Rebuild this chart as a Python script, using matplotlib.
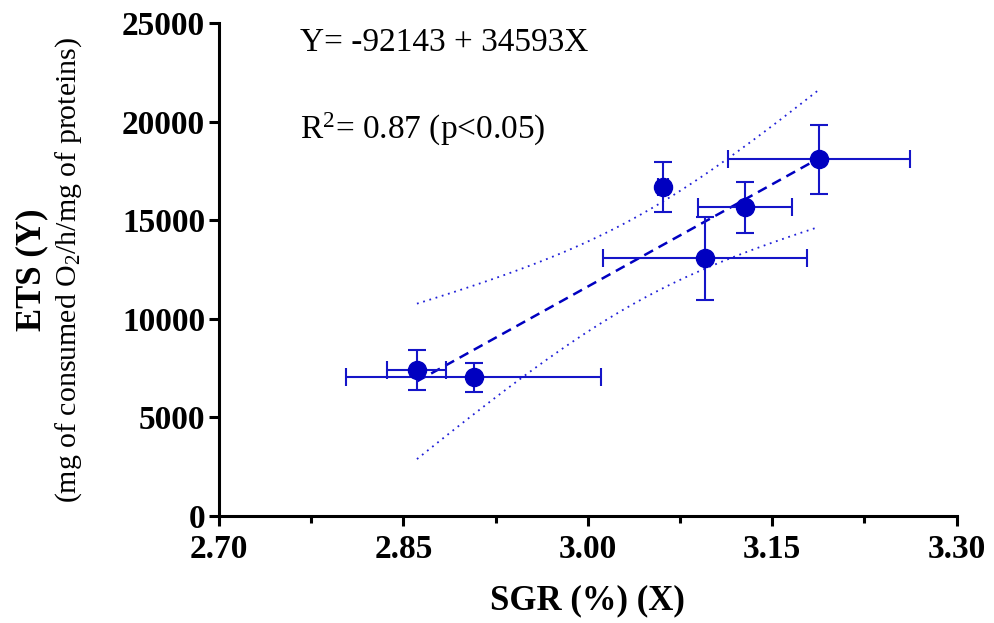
import numpy as np
import matplotlib
matplotlib.use("Agg")
import matplotlib.pyplot as plt
from matplotlib.ticker import MultipleLocator

plt.rcParams['font.family'] = ['Liberation Serif', 'DejaVu Serif']
plt.rcParams['mathtext.fontset'] = 'custom'
plt.rcParams['mathtext.rm'] = 'Liberation Serif'
plt.rcParams['mathtext.it'] = 'Liberation Serif:italic'
plt.rcParams['mathtext.bf'] = 'Liberation Serif:bold'

# SGR (%) vs ETS activity, mean +/- SD for each group
sgr = [2.861, 2.907, 3.061, 3.095, 3.128, 3.188]
sgr_sd = [0.024, 0.104, 0.004, 0.083, 0.038, 0.074]
ets = [7400, 7030, 16690, 13060, 15650, 18090]
ets_sd = [1010, 745, 1267, 2094, 1283, 1757]

# fitted regression
intercept = -92143
slope = 34593
t_crit = 2.776  # t(0.975, df=4)

blue = '#0000C0'
ebar = '#1515C8'

x = np.array(sgr)
y = np.array(ets)
n = len(x)
xs = np.linspace(x.min(), x.max(), 100)
fit = intercept + slope * xs
resid = y - (intercept + slope * x)
s = np.sqrt(np.sum(resid ** 2) / (n - 2))
sxx = np.sum((x - x.mean()) ** 2)
half = t_crit * s * np.sqrt(1 / n + (xs - x.mean()) ** 2 / sxx)

fig = plt.figure(figsize=(9.95, 6.23), dpi=100)
ax = fig.add_axes([0.2201, 0.1717, 0.7414, 0.7914])

ax.plot(xs, fit, color=blue, lw=1.8, ls=(0, (4, 2.5)), zorder=2)
ax.plot(xs, fit + half, color='#2020D8', lw=1.3, ls=(0, (1, 2.6)), zorder=2)
ax.plot(xs, fit - half, color='#2020D8', lw=1.3, ls=(0, (1, 2.6)), zorder=2)

ax.errorbar(sgr, ets, xerr=sgr_sd, yerr=ets_sd, fmt='o', color=blue,
            ecolor=ebar, markersize=13, elinewidth=1.5, capsize=6.5,
            capthick=1.5, zorder=3)

ax.set_xlim(2.70, 3.30)
ax.set_ylim(0, 25000)
ax.xaxis.set_minor_locator(MultipleLocator(0.075))
ax.yaxis.set_major_locator(MultipleLocator(5000))
ax.set_xticks([2.70, 2.85, 3.00, 3.15, 3.30])
ax.set_xticklabels(['2.70', '2.85', '3.00', '3.15', '3.30'])

for side in ['top', 'right']:
    ax.spines[side].set_visible(False)
for side in ['left', 'bottom']:
    ax.spines[side].set_linewidth(2.2)

ax.tick_params(axis='both', which='major', direction='out', length=7,
               width=2.2, labelsize=24, pad=3)
ax.tick_params(axis='x', which='major', pad=6)
ax.tick_params(axis='x', which='minor', direction='out', length=5, width=2.2)
for lab in ax.get_xticklabels() + ax.get_yticklabels():
    lab.set_fontweight('bold')

ax.set_xlabel('SGR (%) (X)', fontsize=25, fontweight='bold', labelpad=14)
fig.text(0.032, 0.567, 'ETS (Y)', rotation=90, fontsize=25,
         fontweight='bold', ha='center', va='center')
fig.text(0.069, 0.567, r'(mg of consumed O$_2$/h/mg of proteins)',
         rotation=90, fontsize=21.5, ha='center', va='center')

ax.text(2.766, 24000, 'Y= -92143 + 34593X', fontsize=24, va='center')
ax.text(2.766, 19600, r'R$^2$= 0.87 (p<0.05)', fontsize=24, va='center')

fig.savefig('out.png', dpi=100)
